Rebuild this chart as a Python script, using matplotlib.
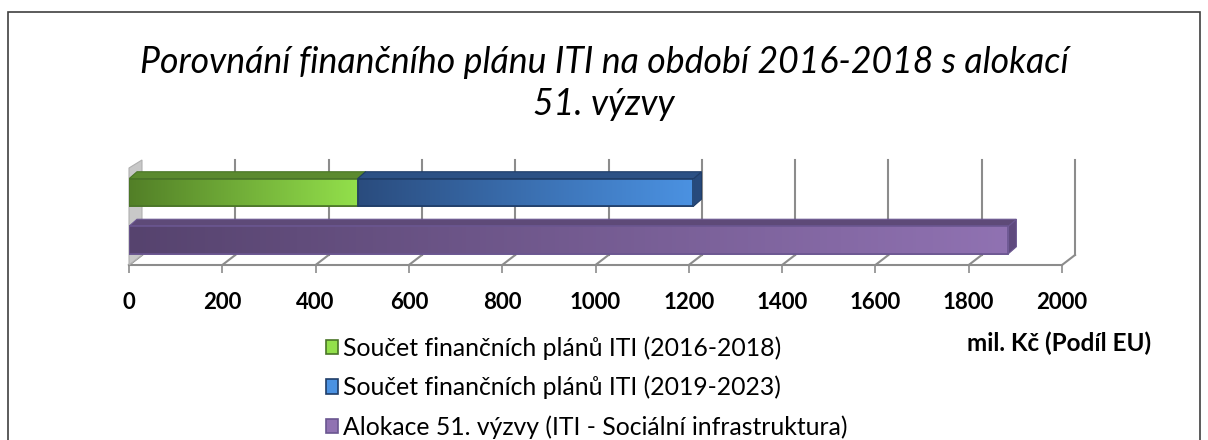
import numpy as np
import matplotlib
matplotlib.use("Agg")
import matplotlib.pyplot as plt
from matplotlib.patches import Polygon, Rectangle
from matplotlib.colors import LinearSegmentedColormap

# data (mil. Kč, podíl EU)
rows = ["plan", "alokace"]
plan_2016_2018 = [490, 0]
plan_2019_2023 = [720, 0]
alokace_51 = [0, 1885]
series_labels = [
    "Součet finančních plánů ITI (2016-2018)",
    "Součet finančních plánů ITI (2019-2023)",
    "Alokace 51. výzvy (ITI - Sociální infrastruktura)",
]
xticks = [0, 200, 400, 600, 800, 1000, 1200, 1400, 1600, 1800, 2000]

FONT = ["Lato", "DejaVu Sans"]
plt.rcParams["font.family"] = FONT

# colours: (left of gradient, right of gradient, top face, side face, edge)
styles = [
    ("#527f27", "#93e04b", "#5b8a2f", "#4a7826", "#4a7528"),
    ("#2a4c7e", "#4b92e2", "#2c5185", "#274a7c", "#1f3d68"),
    ("#56436e", "#9072b2", "#5e4a78", "#5f4a7e", "#6a5690"),
]

fig = plt.figure(figsize=(12.08, 4.40), dpi=100)
ax = fig.add_axes([129 / 1208, 175 / 440, 933 / 1208, 110 / 440])
ax.set_xlim(0, 2000)
ax.set_ylim(0, 110)

px = 2000 / 933.0   # data units per pixel along x
back_dx = 13 * px
back_dy = 10
bar_dx = 8 * px
bar_dy = 7

grid_c = "#8c8c8c"
# back wall gridlines + floor diagonals
for t in xticks:
    if t > 0:
        ax.plot([t + back_dx, t + back_dx], [back_dy, 105], color=grid_c, lw=1.5, zorder=1, clip_on=False)
    ax.plot([t, t + back_dx], [0, back_dy], color=grid_c, lw=1.5, zorder=1, clip_on=False)
ax.plot([0, 2000], [0, 0], color=grid_c, lw=1.5, zorder=1, clip_on=False)

# left wall
wall = Polygon([(0, 97), (back_dx, 105), (back_dx, back_dy), (0, 0)],
               closed=True, facecolor="#c8c8c8", edgecolor="#b0b0b0", lw=0.8, zorder=1, clip_on=False)
ax.add_patch(wall)

y_pos = [72.5, 25]
h = 27.5
b1 = ax.barh(y_pos, plan_2016_2018, height=h, zorder=3)
b2 = ax.barh(y_pos, plan_2019_2023, left=plan_2016_2018, height=h, zorder=3)
b3 = ax.barh(y_pos, alokace_51, height=h, zorder=3)

for bars, st in zip([b1, b2, b3], styles):
    cmap = LinearSegmentedColormap.from_list("g", [st[0], st[1]])
    for p in bars.patches:
        x0, y0 = p.get_x(), p.get_y()
        w, hh = p.get_width(), p.get_height()
        if w <= 0:
            continue
        p.set_facecolor(st[1])
        p.set_edgecolor(st[4])
        p.set_linewidth(1.2)
        grad = np.linspace(0, 1, 256).reshape(1, -1)
        im = ax.imshow(grad, cmap=cmap, extent=[x0, x0 + w, y0, y0 + hh], aspect="auto", zorder=3.5)
        im.set_clip_path(p)
        top = Polygon([(x0, y0 + hh), (x0 + bar_dx, y0 + hh + bar_dy),
                       (x0 + w + bar_dx, y0 + hh + bar_dy), (x0 + w, y0 + hh)],
                      closed=True, facecolor=st[2], edgecolor=st[4], lw=0.8, zorder=3.2)
        ax.add_patch(top)
        side = Polygon([(x0 + w, y0 + hh), (x0 + w + bar_dx, y0 + hh + bar_dy),
                        (x0 + w + bar_dx, y0 + bar_dy), (x0 + w, y0)],
                       closed=True, facecolor=st[3], edgecolor=st[4], lw=0.8, zorder=3.1)
        ax.add_patch(side)
        edge = Rectangle((x0, y0), w, hh, fill=False, edgecolor=st[4], lw=1.2, zorder=3.6)
        ax.add_patch(edge)

ax.set_xlim(0, 2000)
ax.set_ylim(0, 110)
ax.set_yticks([])
for s in ax.spines.values():
    s.set_visible(False)
ax.set_xticks(xticks)
ax.set_xticklabels([str(t) for t in xticks], fontsize=16, fontweight="bold")
ax.tick_params(axis="x", length=5.5, width=1.2, color=grid_c, pad=14)
ax.patch.set_alpha(0)

# title
fig.text(0.5, 1 - 83.5 / 440, "Porovnání finančního plánu ITI na období 2016-2018 s alokací\n51. výzvy",
         ha="center", va="center", fontsize=25.7, style="italic", linespacing=1.3)

# axis unit label
fig.text(1059 / 1208, 1 - 343 / 440, "mil. Kč (Podíl EU)", ha="center", va="center",
         fontsize=17.5, fontweight="bold")

# legend
handles = [Rectangle((0, 0), 1, 1, facecolor=st[1], edgecolor=st[4], lw=1.2) for st in styles]
leg = fig.legend(handles, series_labels, loc="upper left", bbox_to_anchor=(326 / 1208, 1 - 336 / 440),
                 frameon=False, fontsize=17.8, handlelength=0.5, handleheight=0.5,
                 handletextpad=0.2, labelspacing=0.65, borderpad=0, borderaxespad=0)

# outer frame
fig.patches.append(Rectangle((8 / 1208, -0.05), 1192 / 1208, (440 - 12) / 440 + 0.05,
                             transform=fig.transFigure, fill=False, edgecolor="#404040", lw=1.2))

fig.savefig("out.png", dpi=100)
